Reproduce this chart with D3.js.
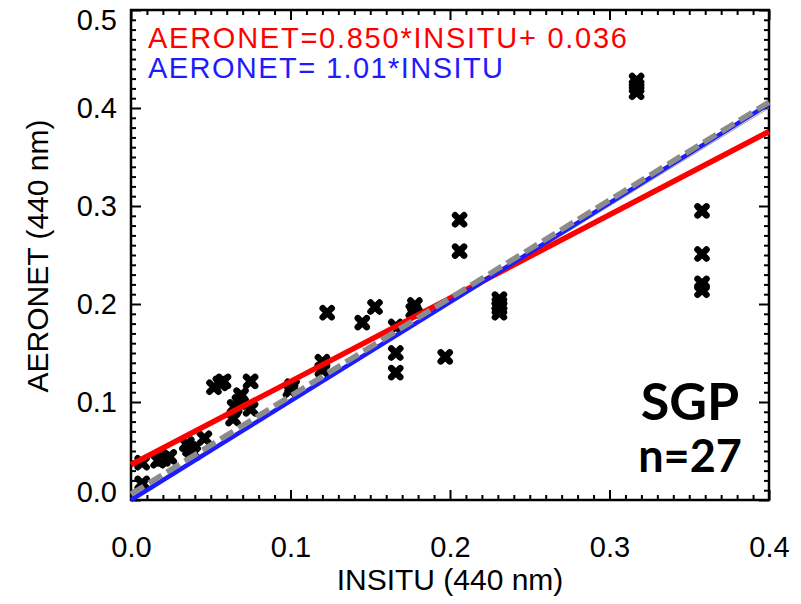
<!DOCTYPE html>
<html lang="en">
<head>
<meta charset="UTF-8">
<title>SGP AERONET vs INSITU</title>
<style>
  body { margin: 0; background: #fff; }
  svg { display: block; }
  .axis path { display: none; }
  .axis line { stroke: #000; stroke-width: 2; }
  .axis text { font-family: "Liberation Sans", Arial, sans-serif; font-size: 29px; fill: #000; }
</style>
</head>
<body>
<svg width="801" height="604"></svg>
<script src="https://cdnjs.cloudflare.com/ajax/libs/d3/7.8.5/d3.min.js"></script>
<script>
// data
const insitu  = [0.007, 0.007, 0.017, 0.020, 0.024, 0.035, 0.037, 0.039, 0.046, 0.052, 0.056, 0.058,
                 0.064, 0.065, 0.068, 0.069, 0.075, 0.075, 0.100, 0.101, 0.120, 0.120, 0.123, 0.145,
                 0.153, 0.166, 0.166, 0.166, 0.177, 0.178, 0.197, 0.206, 0.206, 0.231, 0.231, 0.231,
                 0.231, 0.317, 0.317, 0.317, 0.358, 0.358, 0.358, 0.358];
const aeronet = [0.017, 0.038, 0.040, 0.042, 0.044, 0.057, 0.052, 0.048, 0.063, 0.115, 0.119, 0.121,
                 0.083, 0.095, 0.100, 0.107, 0.121, 0.093, 0.112, 0.116, 0.133, 0.141, 0.191, 0.181,
                 0.197, 0.130, 0.150, 0.177, 0.193, 0.199, 0.146, 0.254, 0.286, 0.191, 0.196, 0.200,
                 0.205, 0.416, 0.422, 0.428, 0.295, 0.251, 0.221, 0.214];

// fit lines: slope, intercept
const fitNames  = ['oneToOne', 'red', 'blue', 'grayDash'];
const fitSlope  = [1.0, 0.850, 1.01, 1.0];
const fitInter  = [0.0, 0.036, 0.0, 0.006];

const xTicks = [0.0, 0.1, 0.2, 0.3, 0.4];
const yTicks = [0.0, 0.1, 0.2, 0.3, 0.4, 0.5];

const redLabel  = 'AERONET=0.850*INSITU+ 0.036';
const blueLabel = 'AERONET= 1.01*INSITU';
const siteName  = 'SGP';
const countLabel = 'n=27';

var svg = d3.select('svg');

// plot box (window.top is taken, so own names)
var pLeft = 131, pRight = 769, pTop = 10, pBottom = 500;
var x = d3.scaleLinear().domain([0, 0.4]).range([pLeft, pRight]);
var y = d3.scaleLinear().domain([0, 0.5]).range([pBottom, pTop]);

// minor ticks every 0.01
function notMajor(v) { return Math.abs(v * 10 - Math.round(v * 10)) > 1e-6; }
var xMinor = d3.range(0, 0.4001, 0.01).filter(notMajor);
var yMinor = d3.range(0, 0.5001, 0.01).filter(notMajor);

var fmt = d3.format('.1f');

// axes, ticks pointing inside on all four sides
svg.append('g').attr('class', 'axis').attr('transform', 'translate(0,' + pBottom + ')')
    .call(d3.axisBottom(x).tickValues(xTicks).tickSize(-10).tickPadding(36).tickFormat(fmt));
svg.append('g').attr('class', 'axis').attr('transform', 'translate(0,' + pBottom + ')')
    .call(d3.axisBottom(x).tickValues(xMinor).tickSize(-5).tickFormat(''));
svg.append('g').attr('class', 'axis').attr('transform', 'translate(0,' + pTop + ')')
    .call(d3.axisTop(x).tickValues(xTicks).tickSize(-10).tickFormat(''));
svg.append('g').attr('class', 'axis').attr('transform', 'translate(0,' + pTop + ')')
    .call(d3.axisTop(x).tickValues(xMinor).tickSize(-5).tickFormat(''));

var yAxisG = svg.append('g').attr('class', 'axis').attr('transform', 'translate(' + pLeft + ',0)')
    .call(d3.axisLeft(y).tickValues(yTicks).tickSize(-10).tickPadding(14).tickFormat(fmt));
// end labels are kept inside the box, like the original
yAxisG.selectAll('.tick text')
    .attr('dy', function (d) { return d === 0.5 ? '0.68em' : (d === 0 ? '0.05em' : '0.32em'); });
svg.append('g').attr('class', 'axis').attr('transform', 'translate(' + pLeft + ',0)')
    .call(d3.axisLeft(y).tickValues(yMinor).tickSize(-5).tickFormat(''));
svg.append('g').attr('class', 'axis').attr('transform', 'translate(' + pRight + ',0)')
    .call(d3.axisRight(y).tickValues(yTicks).tickSize(-10).tickFormat(''));
svg.append('g').attr('class', 'axis').attr('transform', 'translate(' + pRight + ',0)')
    .call(d3.axisRight(y).tickValues(yMinor).tickSize(-5).tickFormat(''));

// frame
svg.append('rect')
    .attr('x', pLeft).attr('y', pTop)
    .attr('width', pRight - pLeft).attr('height', pBottom - pTop)
    .attr('fill', 'none').attr('stroke', '#000').attr('stroke-width', 2.5);

// data markers (fat X)
var s = 4.5;
svg.append('g').selectAll('path')
    .data(d3.range(insitu.length))
    .enter().append('path')
    .attr('transform', function (i) { return 'translate(' + x(insitu[i]) + ',' + y(aeronet[i]) + ')'; })
    .attr('d', 'M' + (-s) + ',' + (-s) + 'L' + s + ',' + s + 'M' + (-s) + ',' + s + 'L' + s + ',' + (-s))
    .attr('stroke', '#000').attr('stroke-width', 6.5).attr('stroke-linecap', 'round');

// fit lines
var lineStyle = {
    oneToOne: { color: '#a0a0a0', width: 1, dash: null },
    red:      { color: '#ff0000', width: 5.5, dash: null },
    blue:     { color: '#1c1cff', width: 4.5, dash: null },
    grayDash: { color: '#8c8c8c', width: 5.5, dash: '15,6' }
};
var drawOrder = ['oneToOne', 'red', 'blue', 'grayDash'];
var line = d3.line().x(function (d) { return x(d[0]); }).y(function (d) { return y(d[1]); });

drawOrder.forEach(function (name) {
    var k = fitNames.indexOf(name);
    var st = lineStyle[name];
    var pts = x.domain().map(function (v) { return [v, fitSlope[k] * v + fitInter[k]]; });
    svg.append('path')
        .datum(pts)
        .attr('d', line)
        .attr('fill', 'none')
        .attr('stroke', st.color)
        .attr('stroke-width', st.width)
        .attr('stroke-dasharray', st.dash);
});

// equations
svg.append('text')
    .attr('x', 148).attr('y', 48)
    .attr('textLength', 479).attr('lengthAdjust', 'spacing')
    .style('font-family', '"Liberation Sans", Arial, sans-serif')
    .style('font-size', '29px').attr('fill', '#ff0000')
    .text(redLabel);
svg.append('text')
    .attr('x', 148).attr('y', 78)
    .attr('textLength', 355).attr('lengthAdjust', 'spacing')
    .style('font-family', '"Liberation Sans", Arial, sans-serif')
    .style('font-size', '29px').attr('fill', '#1c1cff')
    .text(blueLabel);

// site and count
svg.append('text')
    .attr('x', 690).attr('y', 420).attr('text-anchor', 'middle')
    .style('font-family', 'Lato, "Open Sans", sans-serif').style('font-weight', 'bold')
    .style('font-size', '52px').attr('fill', '#000')
    .text(siteName);
svg.append('text')
    .attr('x', 690).attr('y', 472).attr('text-anchor', 'middle')
    .style('font-family', 'Lato, "Open Sans", sans-serif').style('font-weight', 'bold')
    .style('font-size', '45px').attr('fill', '#000')
    .text(countLabel);

// axis titles
svg.append('text')
    .attr('x', 450).attr('y', 590).attr('text-anchor', 'middle')
    .style('font-family', '"Liberation Sans", Arial, sans-serif').style('font-size', '30px')
    .text('INSITU (440 nm)');
svg.append('text')
    .attr('transform', 'translate(48,256) rotate(-90)').attr('text-anchor', 'middle')
    .style('font-family', '"Liberation Sans", Arial, sans-serif').style('font-size', '30px')
    .text('AERONET (440 nm)');
</script>
</body>
</html>
